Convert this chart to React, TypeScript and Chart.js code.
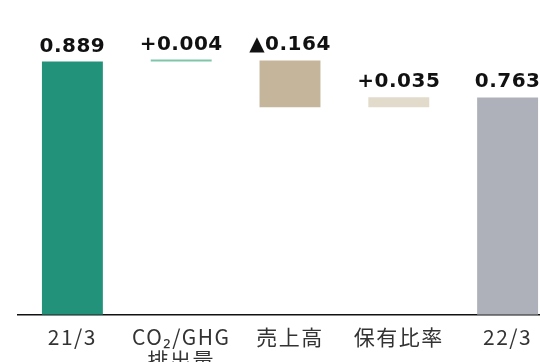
import React, { useEffect, useRef } from "react";
import { Chart, registerables } from "chart.js";

Chart.register(...registerables);

const categories: (string | string[])[] = ["21/3", ["CO₂/GHG", "排出量"], "売上高", "保有比率", "22/3"];
const startValue = 0.889;
const deltas = [0.004, -0.164, 0.035];
const endValue = 0.763;
const valueLabels = ["0.889", "+0.004", "▲0.164", "+0.035", "0.763"];
const barColors = ["#23927a", "#7ec5aa", "#c4b59b", "#e2dbcb", "#aeb1b9"];

function buildRanges(): [number, number][] {
  const ranges: [number, number][] = [[0, startValue]];
  let cur = startValue;
  for (const d of deltas) {
    const next = cur + d;
    ranges.push([Math.min(cur, next), Math.max(cur, next)]);
    cur = next;
  }
  ranges.push([0, endValue]);
  return ranges;
}

const valueLabelPlugin = {
  id: "valueLabels",
  beforeDraw(chart: any) {
    chart.ctx.letterSpacing = "1.5px";
  },
  afterDatasetsDraw(chart: any) {
    const ctx = chart.ctx;
    const meta = chart.getDatasetMeta(0);
    ctx.save();
    ctx.letterSpacing = "0.5px";
    ctx.font = "bold 20px 'DejaVu Sans'";
    ctx.fillStyle = "#111111";
    ctx.textAlign = "center";
    ctx.textBaseline = "alphabetic";
    meta.data.forEach((bar: any, i: number) => {
      const top = Math.min(bar.y, bar.base);
      ctx.fillText(valueLabels[i], bar.x, top - 10);
    });
    ctx.restore();
  },
};

export default function App() {
  const ref = useRef<HTMLCanvasElement | null>(null);
  useEffect(() => {
    if (!ref.current) return;
    const chart = new Chart(ref.current, {
      type: "bar",
      data: {
        labels: categories as any,
        datasets: [
          {
            data: buildRanges() as any,
            backgroundColor: barColors,
            borderWidth: 0,
            barPercentage: 0.56,
            categoryPercentage: 1,
            minBarLength: 2,
          },
        ],
      },
      options: {
        responsive: false,
        animation: false,
        devicePixelRatio: 1,
        layout: { padding: { left: 18, top: 30, right: 0, bottom: 0 } },
        plugins: { legend: { display: false }, tooltip: { enabled: false } },
        scales: {
          x: {
            offset: true,
            grid: { display: false, drawTicks: false },
            border: { display: true, color: "#111111", width: 1.5 },
            ticks: {
              padding: 11,
              color: "#333333",
              maxRotation: 0,
              autoSkip: false,
              font: { family: "'Noto Sans CJK JP', 'Noto Sans'", size: 21, lineHeight: 1.1 },
            },
          },
          y: { display: false, min: 0, max: 1 },
        },
      },
      plugins: [valueLabelPlugin],
    });
    return () => chart.destroy();
  }, []);
  return (
    <div style={{ position: "fixed", left: 0, top: 0, width: 540, height: 362, overflow: "hidden", background: "#fff" }}>
      <canvas ref={ref} width={562} height={383} style={{ display: "block" }} />
    </div>
  );
}
